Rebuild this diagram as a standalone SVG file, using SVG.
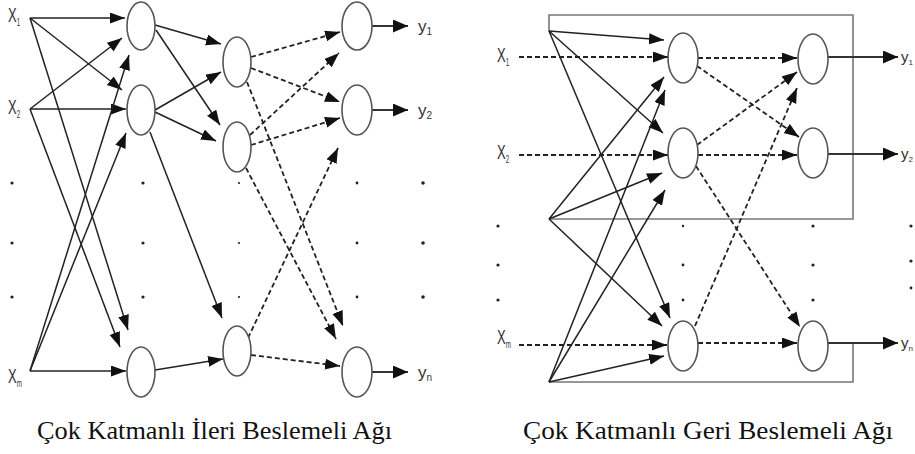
<svg xmlns="http://www.w3.org/2000/svg" width="915" height="454" viewBox="0 0 915 454">
  <style>
    .node { fill: #fff; stroke: #555; stroke-width: 1.6; }
    .solid { fill: none; stroke: #222; stroke-width: 1.5; marker-end: url(#arrow); }
    .dash { fill: none; stroke: #222; stroke-width: 1.8; stroke-dasharray: 5 3; marker-end: url(#arrow); }
    .out { fill: none; stroke: #333; stroke-width: 2; marker-end: url(#arrowBig); }
    .loop { fill: none; stroke: #777; stroke-width: 1.6; }
    .dot { fill: #222; }
    .lbl { font-family: "Liberation Sans", Arial, sans-serif; font-size: 21px; fill: #333; }
    .sub { font-size: 10px; }
    .ylbl { font-family: "Liberation Sans", Arial, sans-serif; font-size: 17px; fill: #333; }
    .ylbl-r { font-family: "Liberation Sans", Arial, sans-serif; font-size: 15px; fill: #333; }
    .sub-r { font-size: 8px; }
    .cap { font-size: 25px; fill: #111; }
  </style>
  <defs>
    <marker id="arrow" markerUnits="userSpaceOnUse" markerWidth="16" markerHeight="12" refX="15" refY="5.5" orient="auto">
      <path d="M0,0 L15,5.5 L0,11 z" fill="#111"/>
    </marker>
    <marker id="arrowBig" markerUnits="userSpaceOnUse" markerWidth="16" markerHeight="14" refX="15" refY="6.5" orient="auto">
      <path d="M0,0 L15,6.5 L0,13 z" fill="#111"/>
    </marker>
  </defs>

  <!-- ===== Feed-forward network (left) ===== -->
  <g id="ff-connectors">
    <!-- inputs to first hidden layer -->
    <line class="solid" x1="30" y1="18" x2="125" y2="18"/>
    <line class="solid" x1="30" y1="18" x2="122" y2="90"/>
    <line class="solid" x1="30" y1="18" x2="128" y2="330"/>
    <line class="solid" x1="30" y1="109" x2="122" y2="38"/>
    <line class="solid" x1="30" y1="109" x2="126" y2="109"/>
    <line class="solid" x1="30" y1="109" x2="120" y2="347"/>
    <line class="solid" x1="30" y1="371" x2="129" y2="55"/>
    <line class="solid" x1="30" y1="371" x2="126" y2="133"/>
    <line class="solid" x1="30" y1="371" x2="126" y2="371"/>
    <!-- first to second hidden layer -->
    <line class="solid" x1="155" y1="25" x2="221" y2="44"/>
    <line class="solid" x1="156" y1="30" x2="220" y2="125"/>
    <line class="solid" x1="155" y1="110" x2="221" y2="72"/>
    <line class="solid" x1="155" y1="112" x2="216" y2="141"/>
    <line class="solid" x1="150" y1="132" x2="222" y2="318"/>
    <line class="solid" x1="155" y1="370" x2="223" y2="359"/>
    <!-- second hidden layer to outputs -->
    <line class="dash" x1="251" y1="57" x2="340" y2="32"/>
    <line class="dash" x1="251" y1="68" x2="340" y2="102"/>
    <line class="dash" x1="250" y1="135" x2="339" y2="53"/>
    <line class="dash" x1="251" y1="145" x2="340" y2="118"/>
    <line class="dash" x1="247" y1="82" x2="343" y2="326"/>
    <line class="dash" x1="246" y1="168" x2="336" y2="339"/>
    <line class="dash" x1="248" y1="338" x2="338" y2="148"/>
    <line class="dash" x1="251" y1="355" x2="340" y2="366"/>
    <!-- outputs -->
    <line class="out" x1="372" y1="26" x2="408" y2="26"/>
    <line class="out" x1="372" y1="110" x2="408" y2="110"/>
    <line class="out" x1="372" y1="372" x2="408" y2="372"/>
  </g>

  <g id="ff-h1-1"><ellipse class="node" cx="141" cy="26" rx="14" ry="24"/></g>
  <g id="ff-h1-2"><ellipse class="node" cx="141" cy="110" rx="14" ry="25"/></g>
  <g id="ff-h1-3"><ellipse class="node" cx="141" cy="372" rx="14" ry="25"/></g>
  <g id="ff-h2-1"><ellipse class="node" cx="237" cy="62" rx="14" ry="25"/></g>
  <g id="ff-h2-2"><ellipse class="node" cx="237" cy="147" rx="14" ry="25"/></g>
  <g id="ff-h2-3"><ellipse class="node" cx="237" cy="351" rx="14" ry="25"/></g>
  <g id="ff-o-1"><ellipse class="node" cx="357" cy="26" rx="15" ry="24"/></g>
  <g id="ff-o-2"><ellipse class="node" cx="357" cy="110" rx="15" ry="25"/></g>
  <g id="ff-o-3"><ellipse class="node" cx="357" cy="372" rx="15" ry="25"/></g>

  <g id="ff-inputs">
    <text class="lbl" transform="translate(8,22) scale(0.62,1)">X<tspan class="sub" dy="4">1</tspan></text>
    <text class="lbl" transform="translate(8,114) scale(0.62,1)">X<tspan class="sub" dy="4">2</tspan></text>
    <text class="lbl" transform="translate(8,383) scale(0.62,1)">X<tspan class="sub" dy="4">m</tspan></text>
  </g>
  <g id="ff-outputs">
    <text class="ylbl" x="418" y="32">y<tspan class="sub" dy="3">1</tspan></text>
    <text class="ylbl" x="418" y="116">y<tspan class="sub" dy="3">2</tspan></text>
    <text class="ylbl" x="418" y="378">y<tspan class="sub" dy="3">n</tspan></text>
  </g>
  <g id="ff-dots">
    <circle class="dot" cx="12" cy="183" r="1.6"/><circle class="dot" cx="12" cy="243" r="1.6"/><circle class="dot" cx="12" cy="297" r="1.6"/>
    <circle class="dot" cx="143" cy="183" r="1.6"/><circle class="dot" cx="143" cy="243" r="1.6"/><circle class="dot" cx="143" cy="297" r="1.6"/>
    <circle class="dot" cx="239" cy="183" r="1.1"/><circle class="dot" cx="239" cy="243" r="1.1"/><circle class="dot" cx="239" cy="297" r="1.1"/>
    <circle class="dot" cx="357" cy="183" r="1.4"/><circle class="dot" cx="357" cy="243" r="1.4"/><circle class="dot" cx="357" cy="297" r="1.4"/>
    <circle class="dot" cx="423" cy="183" r="1.8"/><circle class="dot" cx="423" cy="243" r="1.8"/><circle class="dot" cx="423" cy="297" r="1.8"/>
  </g>

  <!-- ===== Recurrent network (right) ===== -->
  <g id="rec-connectors">
    <!-- feedback loops -->
    <polyline class="loop" points="549,31 549,15 853,15 853,219 549,219"/>
    <polyline class="loop" points="853,343 853,382 549,382"/>
    <!-- inputs -->
    <line class="dash" x1="519" y1="57" x2="668" y2="57"/>
    <line class="dash" x1="519" y1="155" x2="668" y2="155"/>
    <line class="dash" x1="519" y1="345" x2="667" y2="345"/>
    <!-- fed-back signals into hidden layer -->
    <line class="solid" x1="549" y1="31" x2="664" y2="40"/>
    <line class="solid" x1="549" y1="31" x2="663" y2="133"/>
    <line class="solid" x1="549" y1="31" x2="670" y2="318"/>
    <line class="solid" x1="549" y1="219" x2="664" y2="77"/>
    <line class="solid" x1="549" y1="219" x2="662" y2="173"/>
    <line class="solid" x1="549" y1="219" x2="662" y2="326"/>
    <line class="solid" x1="549" y1="382" x2="665" y2="90"/>
    <line class="solid" x1="549" y1="382" x2="665" y2="190"/>
    <line class="solid" x1="549" y1="382" x2="664" y2="356"/>
    <!-- hidden to outputs -->
    <line class="dash" x1="698" y1="58" x2="797" y2="58"/>
    <line class="dash" x1="697" y1="66" x2="799" y2="137"/>
    <line class="dash" x1="697" y1="145" x2="797" y2="72"/>
    <line class="dash" x1="698" y1="155" x2="797" y2="155"/>
    <line class="dash" x1="696" y1="166" x2="800" y2="327"/>
    <line class="dash" x1="695" y1="326" x2="797" y2="88"/>
    <line class="dash" x1="698" y1="343" x2="797" y2="343"/>
    <!-- outputs -->
    <line class="out" x1="828" y1="57" x2="898" y2="57"/>
    <line class="out" x1="828" y1="154" x2="898" y2="154"/>
    <line class="out" x1="828" y1="343" x2="898" y2="343"/>
  </g>

  <g id="rec-h-1"><ellipse class="node" cx="683" cy="58" rx="15" ry="25"/></g>
  <g id="rec-h-2"><ellipse class="node" cx="683" cy="153" rx="15" ry="25"/></g>
  <g id="rec-h-3"><ellipse class="node" cx="683" cy="346" rx="15" ry="25"/></g>
  <g id="rec-o-1"><ellipse class="node" cx="813" cy="59" rx="15" ry="25"/></g>
  <g id="rec-o-2"><ellipse class="node" cx="813" cy="153" rx="15" ry="25"/></g>
  <g id="rec-o-3"><ellipse class="node" cx="813" cy="346" rx="15" ry="25"/></g>

  <g id="rec-inputs">
    <text class="lbl" transform="translate(497,62) scale(0.62,1)">X<tspan class="sub" dy="4">1</tspan></text>
    <text class="lbl" transform="translate(497,159) scale(0.62,1)">X<tspan class="sub" dy="4">2</tspan></text>
    <text class="lbl" transform="translate(497,344) scale(0.62,1)">X<tspan class="sub" dy="4">m</tspan></text>
  </g>
  <g id="rec-outputs">
    <text class="ylbl-r" x="901" y="62">y<tspan class="sub-r" dy="3">1</tspan></text>
    <text class="ylbl-r" x="901" y="159">y<tspan class="sub-r" dy="3">2</tspan></text>
    <text class="ylbl-r" x="901" y="348">y<tspan class="sub-r" dy="3">n</tspan></text>
  </g>
  <g id="rec-dots">
    <circle class="dot" cx="498" cy="226" r="1.6"/><circle class="dot" cx="498" cy="265" r="1.6"/><circle class="dot" cx="498" cy="300" r="1.6"/>
    <circle class="dot" cx="683" cy="226" r="1.2"/><circle class="dot" cx="683" cy="265" r="1.4"/><circle class="dot" cx="683" cy="300" r="1.4"/>
    <circle class="dot" cx="813" cy="226" r="1.6"/><circle class="dot" cx="813" cy="265" r="1.6"/><circle class="dot" cx="813" cy="300" r="1.6"/>
    <circle class="dot" cx="911" cy="226" r="1.6"/><circle class="dot" cx="911" cy="261" r="1.6"/><circle class="dot" cx="911" cy="288" r="1.4"/>
  </g>

  <!-- captions -->
  <text class="cap" font-family="Liberation Serif" x="37" y="439" textLength="355" lengthAdjust="spacingAndGlyphs">Çok Katmanlı İleri Beslemeli Ağı</text>
  <text class="cap" font-family="Liberation Serif" x="523" y="439" textLength="370" lengthAdjust="spacingAndGlyphs">Çok Katmanlı Geri Beslemeli Ağı</text>
</svg>
